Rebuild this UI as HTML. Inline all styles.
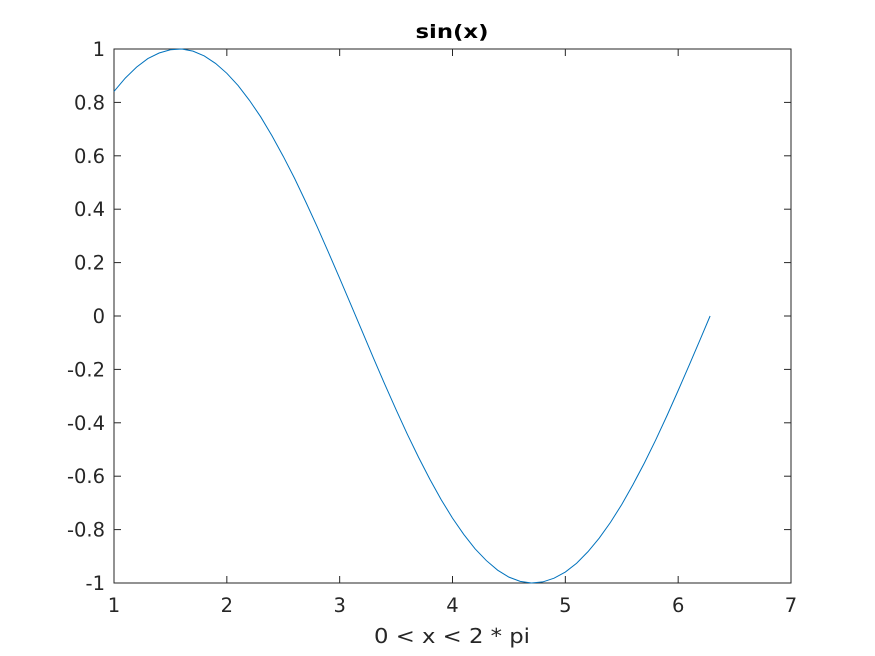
<!DOCTYPE html>
<html><head><meta charset="utf-8"><style>
body{margin:0;background:#fff;}
svg{display:block;font-family:"DejaVu Sans","Liberation Sans",sans-serif;}
</style></head><body>
<svg id="chart" width="875" height="656" viewBox="0 0 875 656">
<rect width="875" height="656" fill="#fff"/>
<g id="axes"></g>
<text x="452" y="38" text-anchor="middle" font-size="19" font-weight="bold" fill="#000" textLength="73" lengthAdjust="spacingAndGlyphs">sin(x)</text>
<text x="452" y="643" text-anchor="middle" font-size="20" fill="#262626" textLength="156" lengthAdjust="spacingAndGlyphs">0 &lt; x &lt; 2 * pi</text>
</svg>
<script>
const xTicks=[1,2,3,4,5,6,7];
const yTicks=[-1,-0.8,-0.6,-0.4,-0.2,0,0.2,0.4,0.6,0.8,1];
const yTickLabels=["-1","-0.8","-0.6","-0.4","-0.2","0","0.2","0.4","0.6","0.8","1"];
const xValues=[1.0,1.1,1.2,1.3,1.4,1.5,1.6,1.7,1.8,1.9,2.0,2.1,2.2,2.3,2.4,2.5,2.6,2.7,2.8,2.9,3.0,3.1,3.2,3.3,3.4,3.5,3.6,3.7,3.8,3.9,4.0,4.1,4.2,4.3,4.4,4.5,4.6,4.7,4.8,4.9,5.0,5.1,5.2,5.3,5.4,5.5,5.6,5.7,5.8,5.9,6.0,6.1,6.2,6.283];
const yValues=[0.841,0.891,0.932,0.964,0.985,0.997,1.000,0.992,0.974,0.946,0.909,0.863,0.808,0.746,0.675,0.598,0.516,0.427,0.335,0.239,0.141,0.042,-0.058,-0.158,-0.256,-0.351,-0.443,-0.530,-0.612,-0.688,-0.757,-0.818,-0.872,-0.916,-0.952,-0.978,-0.994,-1.000,-0.996,-0.982,-0.959,-0.926,-0.883,-0.832,-0.773,-0.706,-0.631,-0.551,-0.465,-0.374,-0.279,-0.182,-0.083,0.0];
const L=114,R=791,T=49,B=583;
const sx=v=>L+(v-1)/(7-1)*(R-L);
const sy=v=>B-(v+1)/2*(B-T);
const NS="http://www.w3.org/2000/svg";
const g=document.getElementById('axes');
function mk(tag,attrs){const e=document.createElementNS(NS,tag);for(const k in attrs)e.setAttribute(k,attrs[k]);g.appendChild(e);return e;}
const box=mk('rect',{x:L,y:T,width:R-L,height:B-T,fill:'none',stroke:'#262626','stroke-width':1});


xTicks.forEach(v=>{
  const x=sx(v);
  const t1=mk('line',{x1:x,y1:B,x2:x,y2:B-7,stroke:'#262626'});
  
  
  const t2=mk('line',{x1:x,y1:T,x2:x,y2:T+7,stroke:'#262626'});
  
  
  const tx=mk('text',{x:x,y:B+29,'text-anchor':'middle','font-size':19.5,fill:'#262626'});
  tx.textContent=v;
  
  
});
yTicks.forEach((v,i)=>{
  const y=sy(v);
  const t1=mk('line',{x1:L,y1:y,x2:L+7,y2:y,stroke:'#262626'});
  
  
  const t2=mk('line',{x1:R,y1:y,x2:R-7,y2:y,stroke:'#262626'});
  
  
  const tx=mk('text',{x:L-9,y:y+7,'text-anchor':'end','font-size':19.5,fill:'#262626'});
  tx.textContent=yTickLabels[i];
  
  
});
const pts=xValues.map((x,i)=>sx(x).toFixed(2)+','+sy(yValues[i]).toFixed(2)).join(' ');
const line=mk('polyline',{points:pts,fill:'none',stroke:'#0072BD','stroke-width':1});


</script>
</body></html>
